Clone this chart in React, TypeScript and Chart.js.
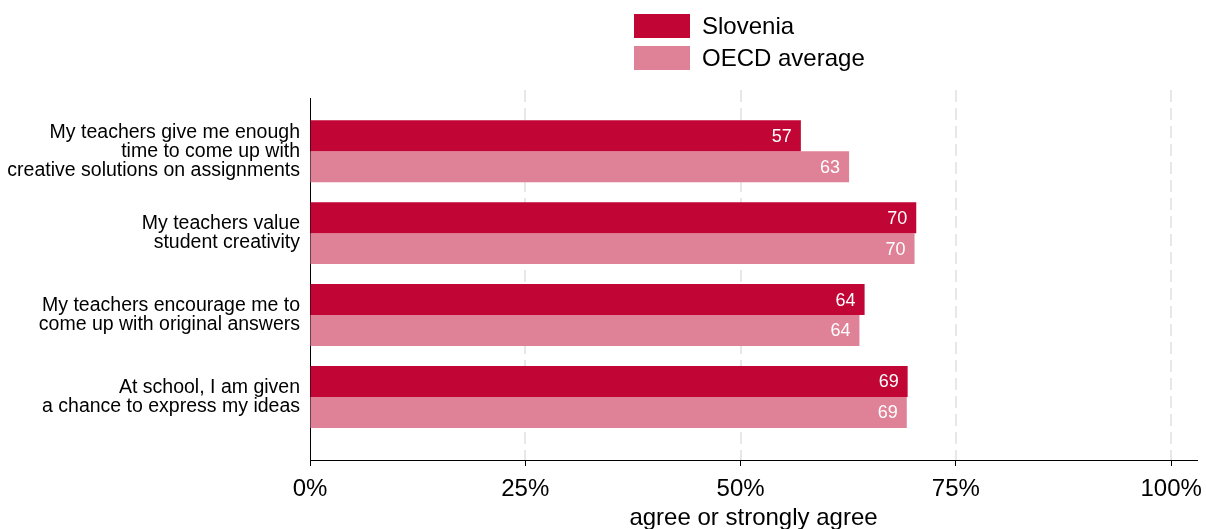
import { useEffect, useRef } from "react";
import { Chart, registerables } from "chart.js";

Chart.register(...registerables);

const CATEGORIES: string[][] = [
  ["My teachers give me enough", "time to come up with", "creative solutions on assignments"],
  ["My teachers value", "student creativity"],
  ["My teachers encourage me to", "come up with original answers"],
  ["At school, I am given", "a chance to express my ideas"],
];
const SERIES_NAMES = ["Slovenia", "OECD average"];
const SLOVENIA = [57.0, 70.4, 64.4, 69.4];
const OECD_AVG = [62.6, 70.2, 63.8, 69.3];
const X_TICKS = [0, 25, 50, 75, 100];
const X_TITLE = "agree or strongly agree";
const COLORS = ["#C10535", "#E08297"];

const FONT = "'Liberation Sans', Arial, sans-serif";

const gridPlugin = {
  id: "dashGrid",
  beforeDatasetsDraw(chart: any) {
    const { ctx, chartArea, scales } = chart;
    const xs = scales.x;
    ctx.save();
    ctx.strokeStyle = "#E8E8E8";
    ctx.lineWidth = 2;
    ctx.setLineDash([12, 6]);
    X_TICKS.forEach((v) => {
      if (v === 0) return;
      const x = Math.round(xs.getPixelForValue(v));
      ctx.beginPath();
      ctx.moveTo(x, chartArea.top - 8);
      ctx.lineTo(x, chartArea.bottom);
      ctx.stroke();
    });
    ctx.restore();
  },
};

const labelPlugin = {
  id: "barLabels",
  afterDatasetsDraw(chart: any) {
    const { ctx } = chart;
    ctx.save();
    ctx.fillStyle = "#FFFFFF";
    ctx.font = `18px ${FONT}`;
    ctx.textAlign = "right";
    ctx.textBaseline = "middle";
    chart.data.datasets.forEach((ds: any, di: number) => {
      const meta = chart.getDatasetMeta(di);
      meta.data.forEach((bar: any, i: number) => {
        const v = ds.data[i].x;
        ctx.fillText(String(Math.round(v)), bar.x - 9, bar.y + 1);
      });
    });
    ctx.restore();
  },
};

const legendPlugin = {
  id: "customLegend",
  afterDraw(chart: any) {
    const { ctx } = chart;
    ctx.save();
    ctx.font = `24px ${FONT}`;
    ctx.textAlign = "left";
    ctx.textBaseline = "middle";
    chart.data.datasets.forEach((ds: any, i: number) => {
      const y = 14 + i * 32;
      ctx.fillStyle = ds.backgroundColor;
      ctx.fillRect(634, y, 56, 24);
      ctx.fillStyle = "#000";
      ctx.fillText(ds.label, 702, y + 13);
    });
    ctx.restore();
  },
};

export default function App() {
  const ref = useRef<HTMLCanvasElement | null>(null);

  useEffect(() => {
    if (!ref.current) return;
    const toPoints = (arr: number[]) => arr.map((v, i) => ({ x: v, y: i }));
    const chart = new Chart(ref.current, {
      type: "bar",
      data: {
        datasets: [
          {
            label: SERIES_NAMES[0],
            data: toPoints(SLOVENIA) as any,
            backgroundColor: COLORS[0],
            categoryPercentage: 0.756,
            barPercentage: 1,
          },
          {
            label: SERIES_NAMES[1],
            data: toPoints(OECD_AVG) as any,
            backgroundColor: COLORS[1],
            categoryPercentage: 0.756,
            barPercentage: 1,
          },
        ],
      },
      options: {
        indexAxis: "y",
        responsive: false,
        animation: false,
        layout: { padding: { top: 98, right: 9, left: 0, bottom: 0 } },
        plugins: {
          legend: { display: false },
          tooltip: { enabled: false },
          title: { display: false },
        },
        scales: {
          x: {
            type: "linear",
            min: 0,
            max: 103,
            offset: false,
            afterBuildTicks: (scale: any) => {
              scale.ticks = X_TICKS.map((v) => ({ value: v }));
            },
            afterFit: (scale: any) => {
              scale.height = 69;
              scale.paddingRight = 0;
              scale.paddingLeft = 0;
            },
            grid: {
              display: true,
              drawOnChartArea: false,
              drawTicks: true,
              tickLength: 6,
              tickColor: "#000",
              tickWidth: 1,
            },
            border: { display: true, color: "#000", width: 1 },
            ticks: {
              color: "#000",
              font: { family: FONT, size: 24 },
              padding: 9,
              maxRotation: 0,
              callback: (v: any) => `${v}%`,
            },
            title: {
              display: true,
              text: X_TITLE,
              color: "#000",
              font: { family: FONT, size: 24, lineHeight: 1 },
              padding: { top: 0, bottom: -1 },
            },
          },
          y: {
            type: "linear",
            reverse: true,
            offset: false,
            min: -0.65,
            max: 3.77,
            afterBuildTicks: (scale: any) => {
              scale.ticks = CATEGORIES.map((_, i) => ({ value: i }));
            },
            afterFit: (scale: any) => {
              scale.width = 310;
              scale.paddingTop = 0;
              scale.paddingBottom = 0;
            },
            grid: { display: false, drawTicks: false, offset: false },
            border: { display: true, color: "#000", width: 1 },
            ticks: {
              color: "#000",
              font: { family: FONT, size: 19.5, lineHeight: 0.97 },
              padding: 10,
              autoSkip: false,
              callback: (v: any) => CATEGORIES[Number(v)] ?? "",
            },
          },
        },
      },
      plugins: [gridPlugin, labelPlugin, legendPlugin],
    });
    return () => chart.destroy();
  }, []);

  return (
    <div style={{ position: "fixed", left: 0, top: 0, width: 1206, height: 529, background: "#fff" }}>
      <canvas ref={ref} width={1206} height={529} style={{ width: 1206, height: 529, display: "block" }} />
    </div>
  );
}
